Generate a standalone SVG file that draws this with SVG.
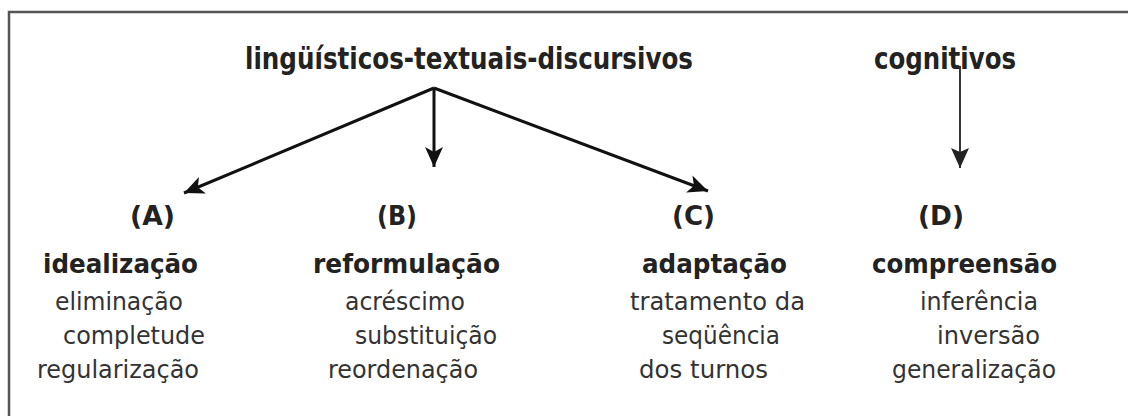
<svg xmlns="http://www.w3.org/2000/svg" width="1128" height="416" viewBox="0 0 1128 416">
<style>
text{font-family:"DejaVu Sans","Verdana",sans-serif;fill:#222}
.t{font-size:30px;font-weight:bold}
.h{font-size:26px;font-weight:bold}
.l{font-size:26px;font-weight:bold}
.r{font-size:24px;fill:#333}
.thick{stroke:#111;stroke-width:3;fill:none}
.thin{stroke:#222;stroke-width:1.8;fill:none}
</style>
<defs>
<marker id="ah" markerUnits="userSpaceOnUse" markerWidth="22" markerHeight="20" refX="20" refY="10" orient="auto">
<path d="M0,1 L20,10 L0,19 L5,10 Z" fill="#111"/>
</marker>
<marker id="ah2" markerUnits="userSpaceOnUse" markerWidth="22" markerHeight="20" refX="20" refY="10" orient="auto">
<path d="M0,1 L20,10 L0,19 L4,10 Z" fill="#222"/>
</marker>
</defs>
<rect x="0" y="0" width="1128" height="416" fill="#fff"/>
<path d="M9,430 L9,12 L1140,12" stroke="#555" stroke-width="2.5" fill="none"/>
<g id="connectors">
<line class="thick" x1="434" y1="88" x2="184" y2="193" marker-end="url(#ah)"/>
<line class="thick" x1="434" y1="88" x2="434" y2="167" marker-end="url(#ah)"/>
<line class="thick" x1="434" y1="88" x2="708" y2="191" marker-end="url(#ah)"/>
<line class="thin" x1="960" y1="66" x2="960" y2="168" marker-end="url(#ah2)"/>
</g>
<g id="top-ling">
<text class="t" x="245" y="69" textLength="448" lengthAdjust="spacingAndGlyphs">lingüísticos-textuais-discursivos</text>
</g>
<g id="top-cog">
<text class="t" x="874" y="69" textLength="142" lengthAdjust="spacingAndGlyphs">cognitivos</text>
</g>
<g id="nodeA">
<text class="l" x="130" y="225" textLength="45" lengthAdjust="spacingAndGlyphs">(A)</text>
<text class="h" x="43" y="273" textLength="155" lengthAdjust="spacingAndGlyphs">idealização</text>
<text class="r" x="55" y="310" textLength="128" lengthAdjust="spacingAndGlyphs">eliminação</text>
<text class="r" x="63" y="344" textLength="142" lengthAdjust="spacingAndGlyphs">completude</text>
<text class="r" x="37" y="378" textLength="162" lengthAdjust="spacingAndGlyphs">regularização</text>
</g>
<g id="nodeB">
<text class="l" x="377" y="225" textLength="40" lengthAdjust="spacingAndGlyphs">(B)</text>
<text class="h" x="313" y="273" textLength="187" lengthAdjust="spacingAndGlyphs">reformulação</text>
<text class="r" x="345" y="310" textLength="120" lengthAdjust="spacingAndGlyphs">acréscimo</text>
<text class="r" x="355" y="344" textLength="142" lengthAdjust="spacingAndGlyphs">substituição</text>
<text class="r" x="328" y="378" textLength="150" lengthAdjust="spacingAndGlyphs">reordenação</text>
</g>
<g id="nodeC">
<text class="l" x="672" y="225" textLength="43" lengthAdjust="spacingAndGlyphs">(C)</text>
<text class="h" x="642" y="273" textLength="145" lengthAdjust="spacingAndGlyphs">adaptação</text>
<text class="r" x="630" y="310" textLength="175" lengthAdjust="spacingAndGlyphs">tratamento da</text>
<text class="r" x="662" y="344" textLength="118" lengthAdjust="spacingAndGlyphs">seqüência</text>
<text class="r" x="639" y="378" textLength="129" lengthAdjust="spacingAndGlyphs">dos turnos</text>
</g>
<g id="nodeD">
<text class="l" x="918" y="225" textLength="46" lengthAdjust="spacingAndGlyphs">(D)</text>
<text class="h" x="872" y="273" textLength="185" lengthAdjust="spacingAndGlyphs">compreensão</text>
<text class="r" x="920" y="310" textLength="118" lengthAdjust="spacingAndGlyphs">inferência</text>
<text class="r" x="937" y="344" textLength="103" lengthAdjust="spacingAndGlyphs">inversão</text>
<text class="r" x="892" y="378" textLength="164" lengthAdjust="spacingAndGlyphs">generalização</text>
</g>
</svg>
